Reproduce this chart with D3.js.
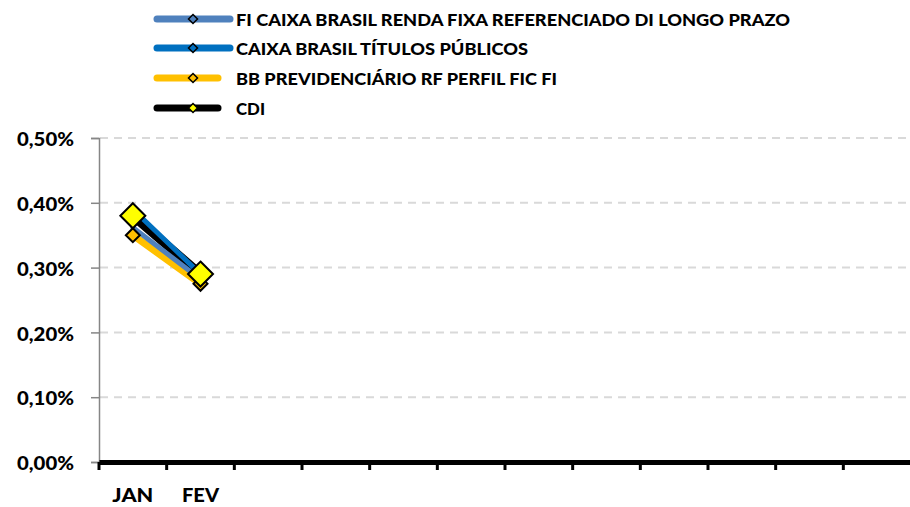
<!DOCTYPE html>
<html><head><meta charset="utf-8">
<script src="https://d3js.org/d3.v7.min.js"></script>
<style>
body{margin:0;background:#fff;}
text{font-family:Lato,"Liberation Sans",Arial,sans-serif;font-weight:900;}
</style></head>
<body><svg id="c" width="910" height="507"></svg>
<script>
const months = ["JAN","FEV","MAR","ABR","MAI","JUN","JUL","AGO","SET","OUT","NOV","DEZ"];
const monthLabels = ["JAN","FEV","","","","","","","","","",""];
const yTicks = [0,0.001,0.002,0.003,0.004,0.005];
const seriesNames = ["FI CAIXA BRASIL RENDA FIXA REFERENCIADO DI LONGO PRAZO","CAIXA BRASIL TÍTULOS PÚBLICOS","BB PREVIDENCIÁRIO RF PERFIL FIC FI","CDI"];
const fiCaixa = [0.00362, 0.00282];
const caixaTP = [0.0039, 0.0029];
const bbPrev = [0.0035, 0.00275];
const cdi = [0.0038, 0.0029];

const colors = ["#4F81BD","#0070C0","#FFC000","#000000"];
const markerFill = ["#4F81BD","#0070C0","#FFC000","#FFFF00"];
const series = [fiCaixa, caixaTP, bbPrev, cdi].map((v,i)=>({name:seriesNames[i], values:v, color:colors[i], mfill:markerFill[i]}));

const svg = d3.select("#c");
const x = d3.scaleBand().domain(months).range([99,911]);
const y = d3.scaleLinear().domain([0,0.005]).range([462,138]);

// gridlines
svg.append("g").selectAll("line").data(yTicks.slice(1)).join("line")
  .attr("x1",100).attr("x2",910).attr("y1",d=>y(d)).attr("y2",d=>y(d))
  .attr("stroke","#d9d9d9").attr("stroke-width",2).attr("stroke-dasharray","8,6");

// y axis
const fmt = d => d3.format(".2f")(d*100).replace(".",",")+"%";
const ya = svg.append("g").attr("transform","translate(99,0)")
  .call(d3.axisLeft(y).tickValues(yTicks).tickSize(8).tickPadding(17).tickFormat(fmt));
ya.select(".domain").attr("stroke","#868686").attr("stroke-width",1.5);
ya.selectAll(".tick line").attr("stroke","#868686").attr("stroke-width",1.5);
ya.selectAll("text").attr("font-size",19).attr("fill","#000").attr("font-family",null).attr("dy","0.4em")
  .attr("textLength",57).attr("lengthAdjust","spacingAndGlyphs");

// x axis
const xa = svg.append("g").attr("transform","translate(0,462)")
  .call(d3.axisBottom(x).tickSize(0).tickPadding(27).tickFormat((d,i)=>monthLabels[i]));
xa.select(".domain").attr("stroke","#000").attr("stroke-width",5);
xa.selectAll("text").attr("font-size",19).attr("fill","#000").attr("font-family",null)
  .attr("textLength",(d,i)=>monthLabels[i]==="JAN"?41:(monthLabels[i]==="FEV"?37:null))
  .attr("lengthAdjust","spacingAndGlyphs");
// boundary ticks
svg.append("g").selectAll("line").data(months).join("line")
  .attr("x1",d=>x(d)).attr("x2",d=>x(d)).attr("y1",462).attr("y2",470)
  .attr("stroke","#000").attr("stroke-width",3);

// lines
const line = d3.line().x((d,i)=>x(months[i])+x.bandwidth()/2).y(d=>y(d));
const drawOrder = [2,3,0,1];
const widths = [5,5,7,9];
drawOrder.forEach(i=>{
  svg.append("path").datum(series[i].values).attr("d",line)
    .attr("fill","none").attr("stroke",series[i].color).attr("stroke-width",widths[i])
    .attr("stroke-linecap","round").attr("stroke-linejoin","round");
});
// markers (only the visible ones in the plot)
const msize = [0,0,7,12.5];
[2,3].forEach(i=>{
  const s = msize[i];
  svg.append("g").selectAll("path").data(series[i].values).join("path")
    .attr("transform",(d,j)=>`translate(${x(months[j])+x.bandwidth()/2},${y(d)})`)
    .attr("d",`M0,${-s}L${s},0L0,${s}L${-s},0Z`)
    .attr("fill",series[i].mfill).attr("stroke","#000").attr("stroke-width",2);
});

// legend
const lg = svg.append("g");
const ly = [19,48,78,108];
const lx2 = [230,230,218,218];
const lw = [554,292,321,29];
series.forEach((s,i)=>{
  lg.append("line").attr("x1",157).attr("x2",lx2[i]).attr("y1",ly[i]).attr("y2",ly[i])
    .attr("stroke",s.color).attr("stroke-width",7).attr("stroke-linecap","round");
  lg.append("path").attr("transform",`translate(193,${ly[i]})`).attr("d","M0,-4.5L4.5,0L0,4.5L-4.5,0Z")
    .attr("fill",s.mfill).attr("stroke","#000").attr("stroke-width",1.5);
  lg.append("text").attr("x",236).attr("y",ly[i]+6.5).attr("font-size",17).attr("fill","#000")
    .attr("textLength",lw[i]).attr("lengthAdjust","spacingAndGlyphs").text(s.name);
});
</script></body></html>
